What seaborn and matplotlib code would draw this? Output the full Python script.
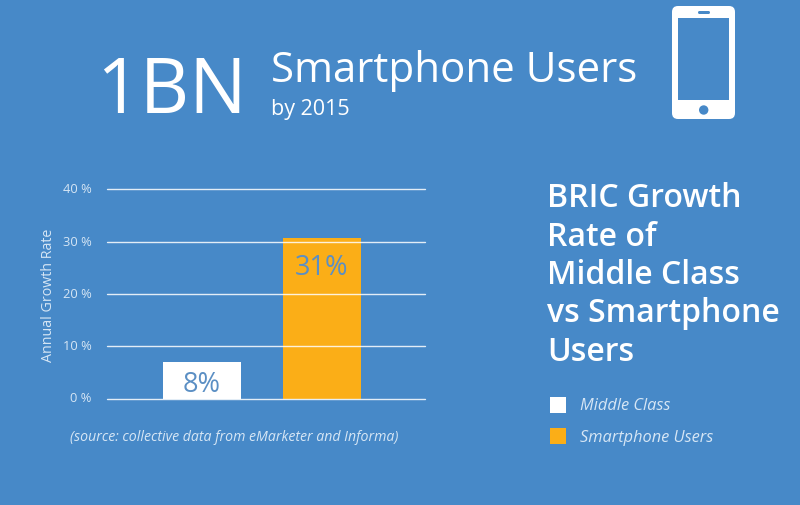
"""BRIC growth rate infographic: middle class vs smartphone users."""

import matplotlib.pyplot as plt
import pandas as pd
import seaborn as sns
from matplotlib.patches import Circle, FancyBboxPatch, Rectangle
from matplotlib.transforms import ScaledTranslation

categories = ["Middle Class", "Smartphone Users"]
bar_heights = [7.0, 30.7]
bar_labels = ["8%", "31%"]
y_ticks = [0, 10, 20, 30, 40]
y_tick_labels = ["0 %", "10 %", "20 %", "30 %", "40 %"]

BLUE = "#4789c8"
ORANGE = "#fbae17"
LABEL_BLUE = "#5b8fc4"
PALE = "#d6e6f5"

sns.set_theme(style="white")
plt.rcParams["font.family"] = ["Open Sans", "DejaVu Sans"]

fig = plt.figure(figsize=(8, 5.06), dpi=100, facecolor=BLUE)

# chart area, placed in pixels of the 800x506 frame
ax = fig.add_axes([107 / 800, 1 - 399.5 / 506, 318 / 800, 209.2 / 506], facecolor=BLUE)
df = pd.DataFrame({"category": categories, "growth": bar_heights})
sns.barplot(
    data=df,
    x="category",
    y="growth",
    hue="category",
    palette=["white", ORANGE],
    width=0.65,
    legend=False,
    saturation=1,
    linewidth=0,
    ax=ax,
    zorder=2,
)
ax.set_xlim(-0.79, 1.858)
ax.set_ylim(0, 40)
ax.set_yticks(y_ticks, y_tick_labels, fontsize=9.3, color=PALE)
ax.set_xticks([])
ax.set_xlabel("")
ax.set_ylabel("Annual Growth Rate", fontsize=10.3, color=PALE, labelpad=5)
ax.tick_params(axis="y", length=0, pad=11)
for label in ax.get_yticklabels():
    label.set_transform(label.get_transform() + ScaledTranslation(0, 1.5 / 72, fig.dpi_scale_trans))
for y in y_ticks:
    ax.axhline(y, color="white", lw=1.0, alpha=0.85, zorder=3, clip_on=False)
sns.despine(ax=ax, left=True, bottom=True, top=True, right=True)

ax.text(0, 2.8, bar_labels[0], color=LABEL_BLUE, fontsize=19.5, ha="center", va="center", zorder=4)
ax.text(1, 25.2, bar_labels[1], color=LABEL_BLUE, fontsize=19.5, ha="center", va="center", zorder=4)

# everything around the chart, in pixel coordinates
over = fig.add_axes([0, 0, 1, 1], facecolor="none")
over.set_xlim(0, 800)
over.set_ylim(506, 0)
over.axis("off")

over.text(96, 113, "1BN", color="white", fontsize=55, ha="left", va="baseline")
over.text(271, 82, "Smartphone Users", color="white", fontsize=30.3, ha="left", va="baseline")
over.text(271, 115, "by 2015", color="white", fontsize=15.5, ha="left", va="baseline")
over.text(70, 441, "(source: collective data from eMarketer and Informa)", color=PALE, fontsize=10.2,
          style="italic", ha="left", va="baseline")

title_lines = ["BRIC Growth", "Rate of", "Middle Class", "vs Smartphone", "Users"]
for i, line in enumerate(title_lines):
    over.text(547, 207 + i * 38.5, line, color="white", fontsize=23, fontweight="semibold",
              ha="left", va="baseline")

for y, colour, name in zip([397.5, 429], ["white", ORANGE], categories):
    over.add_patch(Rectangle((550, y), 16, 16, facecolor=colour, edgecolor="none"))
    over.text(580, y + 13, name, color=PALE, fontsize=11.8, style="italic", ha="left", va="baseline")

# phone icon
over.add_patch(FancyBboxPatch((672, 7), 63, 113, boxstyle="round,pad=0,rounding_size=6", facecolor="white", edgecolor="none"))
over.add_patch(Rectangle((678, 19), 51, 82, facecolor=BLUE, edgecolor="none"))
over.add_patch(FancyBboxPatch((698, 12), 12, 3, boxstyle="round,pad=0,rounding_size=1.5", facecolor=BLUE, edgecolor="none"))
over.add_patch(Circle((703.7, 111), 4.7, facecolor=BLUE, edgecolor="none"))

fig.savefig("out.png", dpi=100, facecolor=BLUE)
